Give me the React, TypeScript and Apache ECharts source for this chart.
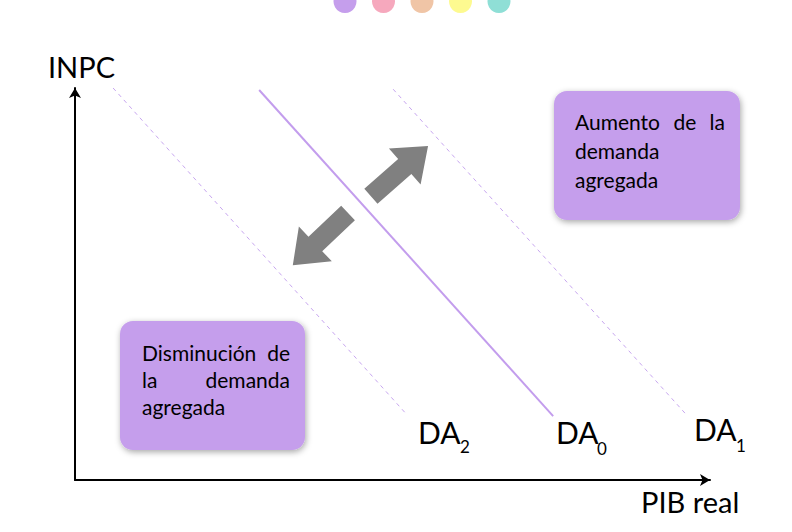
import React, { useEffect, useRef } from "react";
import * as echarts from "echarts";

// Demand curves (x: PIB real, y: INPC), scale 0..100
const curveNames = ["DA2", "DA0", "DA1"];
const da2 = [[6.0, 100], [52.3, 16.6]];
const da0 = [[29.0, 99.5], [75.3, 16.3]];
const da1 = [[50.1, 99.7], [96.2, 16.8]];
// Shift arrows: [fromX, fromY, toX, toY]
const shiftArrows = [
  [43.0, 68.1, 34.3, 54.8],
  [46.6, 72.4, 55.6, 85.2],
];
const axisNames = ["PIB real", "INPC"];
const boxUp = ["Aumento de la", "demanda", "agregada"];
const boxDown = ["Disminución de", "la demanda", "agregada"];
const dotColors = ["#c59eec", "#f6a8bd", "#f0c5a6", "#fdfa90", "#8fdfd6"];

const FONT = "Lato, 'Noto Sans', sans-serif";

export default function App() {
  const ref = useRef<HTMLDivElement>(null);
  useEffect(() => {
    if (!ref.current) return;
    const chart = echarts.init(ref.current, null, { renderer: "svg" });

    const txt = (text: string, x: number, baseline: number, size: number, align = "left") => ({
      type: "text",
      style: {
        text,
        x,
        y: baseline - size * 0.36,
        fill: "#000",
        font: `${size}px ${FONT}`,
        align,
        verticalAlign: "middle",
      },
    });

    const upWords = boxUp[0].split(" ");
    const downL1 = boxDown[0].split(" ");
    const downL2 = boxDown[1].split(" ");

    const boxStyle = {
      fill: "#c59eec",
      shadowBlur: 6,
      shadowColor: "rgba(0,0,0,0.35)",
      shadowOffsetX: 1,
      shadowOffsetY: 2,
    };
    const BF = 21;

    const graphic: any[] = [
      ...dotColors.map((c, i) => ({
        type: "circle",
        shape: { cx: 345 + i * 38.5, cy: 1.5, r: 11.5 },
        style: { fill: c },
      })),
      { type: "rect", shape: { x: 554, y: 91, width: 186, height: 129, r: 13 }, style: boxStyle },
      { type: "rect", shape: { x: 120, y: 321, width: 185, height: 129, r: 13 }, style: boxStyle },
      txt(upWords[0], 575, 129, BF),
      txt(upWords[1], 685, 129, BF, "center"),
      txt(upWords[2], 725, 129, BF, "right"),
      txt(boxUp[1], 575, 158, BF),
      txt(boxUp[2], 575, 187, BF),
      txt(downL1[0], 142, 360, BF),
      txt(downL1[1], 290, 360, BF, "right"),
      txt(downL2[0], 142, 387, BF),
      txt(downL2[1], 290, 387, BF, "right"),
      txt(boxDown[2], 142, 414, BF),
      // curve labels
      txt(curveNames[0].slice(0, 2), 418, 443, 30),
      txt(curveNames[0].slice(2), 460, 453, 17),
      txt(curveNames[1].slice(0, 2), 556, 443, 30),
      txt(curveNames[1].slice(2), 597, 455, 17),
      txt(curveNames[2].slice(0, 2), 694, 440, 30),
      txt(curveNames[2].slice(2), 736, 452, 17),
      // axis names
      txt(axisNames[1], 48, 77, 29),
      txt(axisNames[0], 641, 512, 29),
    ];

    const axisCommon = {
      type: "value",
      min: 0,
      max: 100,
      axisLabel: { show: false },
      axisTick: { show: false },
      splitLine: { show: false },
      axisLine: {
        show: true,
        symbol: ["none", "arrow"],
        symbolSize: [9, 10],
        lineStyle: { color: "#000", width: 2 },
      },
    };

    chart.setOption({
      animation: false,
      grid: { left: 75, top: 88, width: 635, height: 392 },
      xAxis: { ...axisCommon },
      yAxis: { ...axisCommon },
      graphic,
      series: [
        {
          name: curveNames[0],
          type: "line",
          data: da2,
          showSymbol: false,
          lineStyle: { color: "#c7a6ef", width: 1, type: [4, 4] },
        },
        {
          name: curveNames[1],
          type: "line",
          data: da0,
          showSymbol: false,
          lineStyle: { color: "#c39ded", width: 2 },
        },
        {
          name: curveNames[2],
          type: "line",
          data: da1,
          showSymbol: false,
          lineStyle: { color: "#c7a6ef", width: 1, type: [4, 4] },
        },
        {
          type: "custom",
          data: shiftArrows,
          encode: { x: [0, 2], y: [1, 3] },
          renderItem: (params: any, api: any) => {
            const p1 = api.coord([api.value(0), api.value(1)]);
            const p2 = api.coord([api.value(2), api.value(3)]);
            const dx = p2[0] - p1[0];
            const dy = p2[1] - p1[1];
            const len = Math.sqrt(dx * dx + dy * dy);
            const ux = dx / len, uy = dy / len;
            const nx = -uy, ny = ux;
            const sw = 10, hw = 24, hl = 31;
            const bx = p2[0] - ux * hl, by = p2[1] - uy * hl;
            const pts = [
              [p1[0] + nx * sw, p1[1] + ny * sw],
              [bx + nx * sw, by + ny * sw],
              [bx + nx * hw, by + ny * hw],
              [p2[0], p2[1]],
              [bx - nx * hw, by - ny * hw],
              [bx - nx * sw, by - ny * sw],
              [p1[0] - nx * sw, p1[1] - ny * sw],
            ];
            return { type: "polygon", shape: { points: pts }, style: { fill: "#808080" } };
          },
        },
      ],
    });
    return () => chart.dispose();
  }, []);
  return (
    <div
      ref={ref}
      style={{ position: "fixed", left: 0, top: 0, width: 792, height: 532, background: "#fff" }}
    />
  );
}
